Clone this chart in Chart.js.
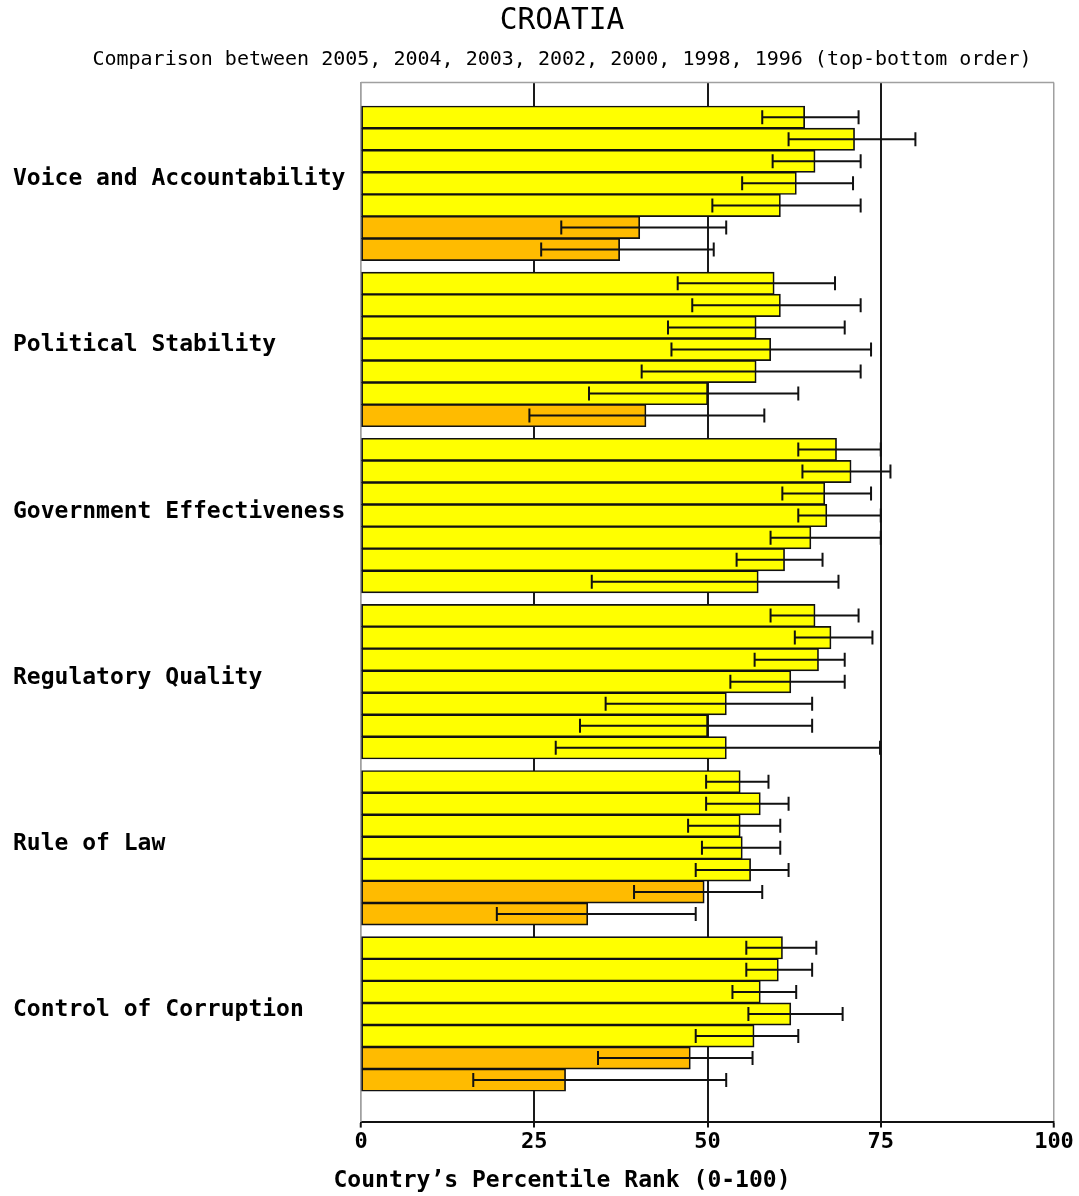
<!DOCTYPE html>
<html>
<head>
<meta charset="utf-8">
<title>Croatia – governance indicators</title>
<script src="https://cdn.jsdelivr.net/npm/chart.js@4.4.0/dist/chart.umd.min.js"></script>
<style>
  html, body { margin: 0; padding: 0; background: #ffffff; overflow: hidden; }
  #wrap { width: 1079px; height: 1196px; }
</style>
</head>
<body>
<div id="wrap"><canvas id="chart"></canvas></div>
<script>
// Indicators (top to bottom) and survey years (top to bottom inside each group)
const categories = ['Voice and Accountability', 'Political Stability', 'Government Effectiveness',
                    'Regulatory Quality', 'Rule of Law', 'Control of Corruption'];
const years = ['2005', '2004', '2003', '2002', '2000', '1998', '1996'];
const xTicks = [0, 25, 50, 75, 100];

// Percentile rank for each indicator, one array per year
const rank2005 = [64.0, 59.6, 68.6, 65.5, 54.7, 60.8];
const rank2004 = [71.2, 60.5, 70.7, 67.8, 57.6, 60.2];
const rank2003 = [65.5, 57.0, 66.9, 66.0, 54.7, 57.6];
const rank2002 = [62.8, 59.1, 67.2, 62.0, 55.0, 62.0];
const rank2000 = [60.5, 57.0, 64.9, 52.7, 56.2, 56.7];
const rank1998 = [40.2, 50.0, 61.1, 50.0, 49.5, 47.5];
const rank1996 = [37.3, 41.1, 57.3, 52.7, 32.7, 29.5];

// Lower and upper ends of the confidence range
const low2005 = [57.9, 45.7, 63.1, 59.1, 49.8, 55.6];
const low2004 = [61.7, 47.8, 63.7, 62.6, 49.8, 55.6];
const low2003 = [59.4, 44.3, 60.8, 56.8, 47.2, 53.6];
const low2002 = [55.0, 44.8, 63.1, 53.3, 49.2, 55.9];
const low2000 = [50.7, 40.5, 59.1, 35.3, 48.3, 48.3];
const low1998 = [28.9, 32.9, 54.2, 31.6, 39.4, 34.2];
const low1996 = [26.0, 24.3, 33.3, 28.1, 19.6, 16.2];

const high2005 = [71.8, 68.4, 75.0, 71.8, 58.8, 65.7];
const high2004 = [80.0, 72.1, 76.4, 73.8, 61.7, 65.1];
const high2003 = [72.1, 69.8, 73.6, 69.8, 60.5, 62.8];
const high2002 = [71.0, 73.6, 75.0, 69.8, 60.5, 69.5];
const high2000 = [72.1, 72.1, 75.0, 65.1, 61.7, 63.1];
const high1998 = [52.7, 63.1, 66.6, 65.1, 57.9, 56.5];
const high1996 = [50.9, 58.2, 68.9, 74.9, 48.3, 52.7];

const ranks = [rank2005, rank2004, rank2003, rank2002, rank2000, rank1998, rank1996];
const lows  = [low2005, low2004, low2003, low2002, low2000, low1998, low1996];
const highs = [high2005, high2004, high2003, high2002, high2000, high1998, high1996];

const FONT = '"DejaVu Sans Mono", "Liberation Mono", monospace';

// Bar colour follows the percentile band of the value
function bandColor(v) {
  if (v < 10) return '#FF0000';
  if (v < 25) return '#FF8000';
  if (v < 50) return '#FFBB00';
  if (v < 75) return '#FFFF00';
  if (v < 90) return '#99FF00';
  return '#00CC00';
}

const datasets = years.map((yr, d) => ({
  label: yr,
  data: ranks[d].map((v, i) => ({ x: v, y: i })),
  errLow: lows[d],
  errHigh: highs[d],
  backgroundColor: (c) => bandColor(c.raw ? c.raw.x : 0),
  borderColor: '#111111',
  borderWidth: 1.7,
  borderSkipped: false,
  inflateAmount: 0.5,
  categoryPercentage: 0.929,
  barPercentage: 1.0
}));

// Whiskers for the confidence range of every bar
const errorBars = {
  id: 'errorBars',
  afterDatasetsDraw(chart) {
    const ctx = chart.ctx;
    const xs = chart.scales.x;
    const cap = 7;
    ctx.save();
    ctx.strokeStyle = '#111111';
    ctx.lineWidth = 2;
    chart.data.datasets.forEach((ds, d) => {
      chart.getDatasetMeta(d).data.forEach((bar, i) => {
        const x0 = xs.getPixelForValue(ds.errLow[i]);
        const x1 = xs.getPixelForValue(ds.errHigh[i]);
        const y = bar.y;
        ctx.beginPath();
        ctx.moveTo(x0, y); ctx.lineTo(x1, y);
        ctx.moveTo(x0, y - cap); ctx.lineTo(x0, y + cap);
        ctx.moveTo(x1, y - cap); ctx.lineTo(x1, y + cap);
        ctx.stroke();
      });
    });
    ctx.restore();
  }
};

// Plot frame top edge, label column position and the axis caption
const LABEL_LEFT = 13;
const frame = {
  id: 'frame',
  afterLayout(chart) {
    chart.scales.y.left = LABEL_LEFT;
  },
  beforeDatasetsDraw(chart) {
    const { ctx, chartArea } = chart;
    ctx.save();
    ctx.strokeStyle = '#a0a0a0';
    ctx.lineWidth = 1.5;
    ctx.beginPath();
    ctx.moveTo(chartArea.left, chartArea.top);
    ctx.lineTo(chartArea.right, chartArea.top);
    ctx.stroke();
    ctx.restore();
  },
  afterDraw(chart) {
    const ctx = chart.ctx;
    const tb = chart.titleBlock;
    ctx.save();
    ctx.font = 'bold 23px ' + FONT;
    ctx.fillStyle = '#000000';
    ctx.textAlign = 'center';
    ctx.textBaseline = 'middle';
    ctx.fillText('Country\u2019s Percentile Rank (0-100)', (tb.left + tb.right) / 2, chart.scales.x.bottom + 25);
    ctx.restore();
  }
};

new Chart(document.getElementById('chart'), {
  type: 'bar',
  data: { datasets },
  plugins: [errorBars, frame],
  options: {
    indexAxis: 'y',
    responsive: true,
    maintainAspectRatio: false,
    animation: false,
    layout: { padding: { left: 70, right: 25, top: 0, bottom: 40 } },
    plugins: {
      legend: { display: false },
      tooltip: { enabled: false },
      title: {
        display: true,
        text: 'CROATIA',
        color: '#000000',
        font: { family: FONT, size: 29.5, weight: 'normal', lineHeight: 1.2 },
        padding: { top: 4, bottom: 8 }
      },
      subtitle: {
        display: true,
        text: 'Comparison between 2005, 2004, 2003, 2002, 2000, 1998, 1996 (top-bottom order)',
        color: '#000000',
        font: { family: FONT, size: 20, weight: 'normal', lineHeight: 1.2 },
        padding: { top: 0, bottom: 11 }
      }
    },
    scales: {
      x: {
        type: 'linear',
        min: 0,
        max: 100,
        afterBuildTicks: (s) => { s.ticks = xTicks.map(v => ({ value: v })); },
        ticks: {
          color: '#000000',
          padding: 1,
          font: { family: FONT, size: 22, weight: 'bold', lineHeight: 1.2 }
        },
        grid: {
          color: (c) => (c.tick && (c.tick.value === 0 || c.tick.value === 100)) ? '#a0a0a0' : '#1a1a1a',
          lineWidth: (c) => (c.tick && (c.tick.value === 0 || c.tick.value === 100)) ? 1.5 : 2,
          tickColor: '#111111',
          tickLength: 6,
          tickWidth: 2
        },
        border: { color: '#111111', width: 2 }
      },
      y: {
        type: 'linear',
        reverse: true,
        offset: false,
        min: -0.6076,
        max: 5.648,
        afterBuildTicks: (s) => { s.ticks = categories.map((_, i) => ({ value: i })); },
        afterFit: (s) => { s.width = 291; },
        ticks: {
          callback: (v) => categories[v],
          color: '#000000',
          crossAlign: 'far',
          labelOffset: -4,
          autoSkip: false,
          font: { family: FONT, size: 23, weight: 'bold', lineHeight: 1.2 }
        },
        grid: { display: false, offset: false },
        border: { color: '#a0a0a0', width: 1.5 }
      }
    }
  }
});
</script>
</body>
</html>
